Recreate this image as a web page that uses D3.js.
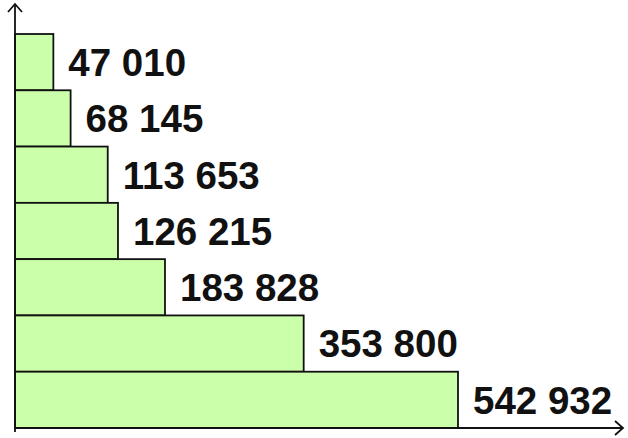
<!DOCTYPE html>
<html>
<head>
<meta charset="utf-8">
<script src="https://cdn.jsdelivr.net/npm/d3@7"></script>
<style>
  html, body { margin: 0; padding: 0; background: #fff; }
  svg { display: block; }
</style>
</head>
<body>
<svg id="chart" width="628" height="438"></svg>
<script>
// Values, top to bottom
const categories = ["a", "b", "c", "d", "e", "f", "g"];
const values = [47010, 68145, 113653, 126215, 183828, 353800, 542932];

const originX = 15, originY = 428;
const plotTop = 34;

const svg = d3.select("#chart");

const x = d3.scaleLinear().domain([0, 542932]).range([originX, 458]);
const y = d3.scaleBand().domain(categories).range([plotTop, originY]).padding(0);

const fmt = d3.formatLocale({ decimal: ",", thousands: " ", grouping: [3], currency: ["", ""] }).format(",d");

const data = categories.map((c, i) => ({ c, v: values[i] }));

// Bars
svg.append("g").selectAll("rect").data(data).join("rect")
  .attr("x", x(0))
  .attr("y", d => y(d.c))
  .attr("width", d => x(d.v) - x(0))
  .attr("height", y.bandwidth())
  .attr("fill", "#ccffaa")
  .attr("stroke", "#111")
  .attr("stroke-width", 1.8);

// Value labels
svg.append("g").selectAll("text").data(data).join("text")
  .attr("x", d => x(d.v) + 15)
  .attr("y", d => y(d.c) + y.bandwidth() / 2)
  .attr("dy", "0.36em")
  .attr("font-family", "Liberation Sans, Arial, sans-serif")
  .attr("font-weight", "bold")
  .attr("font-size", 38.5)
  .attr("fill", "#111")
  .text(d => fmt(d.v));

// Axes with open arrowheads
const ax = svg.append("g").attr("stroke", "#111").attr("stroke-width", 1.8).attr("fill", "none");
ax.append("line").attr("x1", originX).attr("y1", 432).attr("x2", originX).attr("y2", 4);
ax.append("path").attr("d", `M${originX - 7},${12} L${originX},${4} L${originX + 7},${12}`);
ax.append("line").attr("x1", originX).attr("y1", originY).attr("x2", 623).attr("y2", originY);
ax.append("path").attr("d", `M${615},${originY - 7} L${623},${originY} L${615},${originY + 7}`);
</script>
</body>
</html>
